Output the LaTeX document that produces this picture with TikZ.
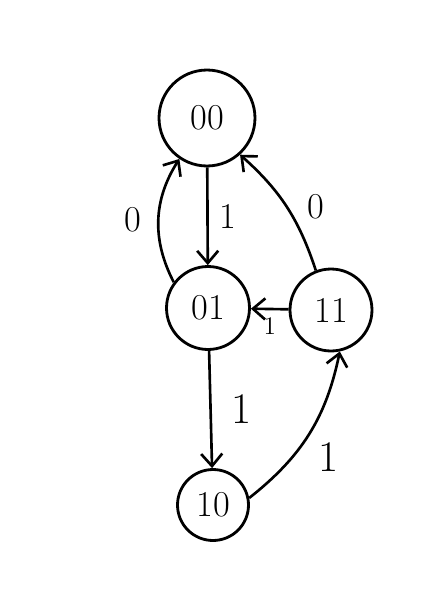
\documentclass[tikz,border=0pt]{standalone}
\usepackage{tikz}
\usetikzlibrary{arrows.meta}

\begin{document}
\begin{tikzpicture}[
      x=0.02cm, y=-0.02cm,
      state/.style={circle, draw, line width=1.6pt, inner sep=0pt, font=\huge},
      trans/.style={-{Straight Barb[length=7pt,width=12pt,line width=1.5pt]}, line width=1.5pt},
      lbl/.style={font=\huge}
    ]
    \useasboundingbox (0,0) rectangle (447,599);
    \node[state, minimum size=1.92cm] (s00) at (207,118) {00};
    \node[state, minimum size=1.66cm] (s01) at (208,308) {01};
    \node[state, minimum size=1.64cm] (s11) at (331,310) {11};
    \node[state, minimum size=1.42cm] (s10) at (213,505) {10};

    \draw[trans] (s00) -- node[right=3pt, lbl] {1} (s01);
    \draw[trans] (s01.143) to[bend left=30] node[left=6pt, lbl] {0} (s00.236);
    \draw[trans] (s11.111) to[bend right=15] node[right=8pt, lbl] {0} (s00.312);
    \draw[trans] (s11) -- node[below=1pt, font=\Large] {1} (s01);
    \draw[trans] (s01) -- node[right=8pt, font=\Huge] {1} (s10);
    \draw[trans] (s10.11) to[bend right=20] node[below right=1pt, font=\Huge] {1} (s11.282);
\end{tikzpicture}
\end{document}
